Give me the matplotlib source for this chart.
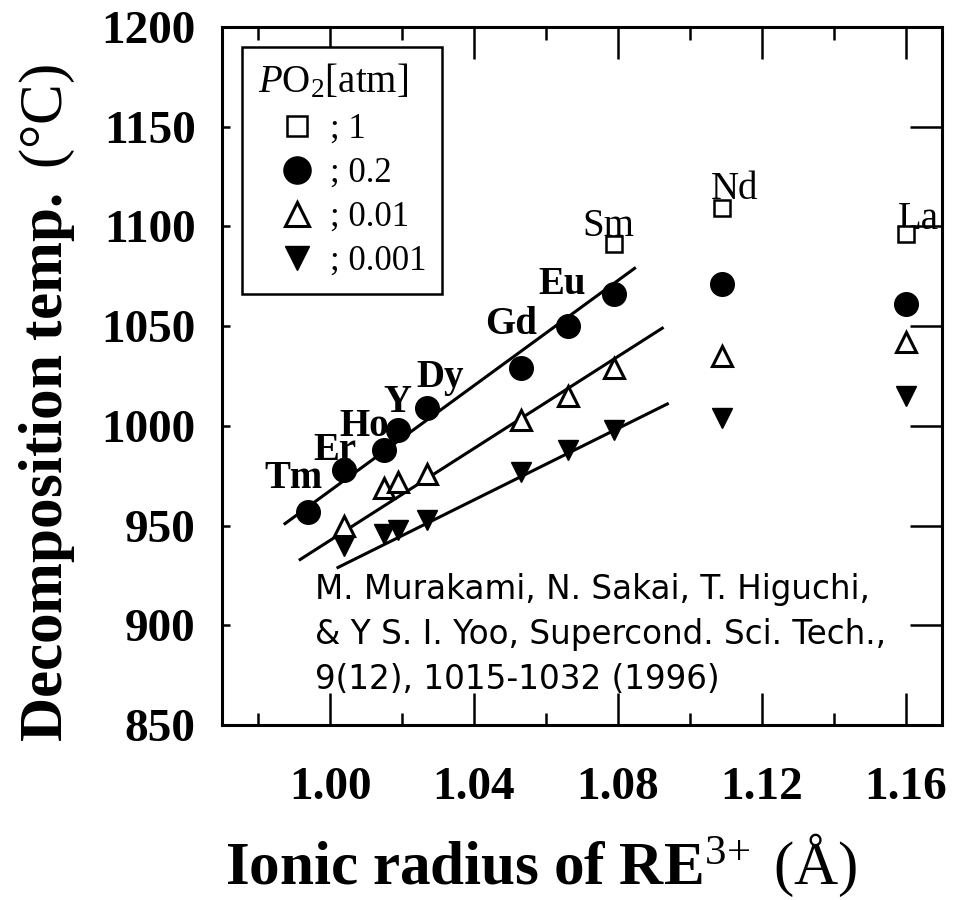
"""Decomposition temperature of REBa2Cu3Oy vs RE3+ ionic radius for several PO2."""

import matplotlib.pyplot as plt
import numpy as np

plt.rcParams["font.family"] = ["Liberation Serif", "DejaVu Serif"]
plt.rcParams["mathtext.fontset"] = "custom"
plt.rcParams["mathtext.rm"] = "Liberation Serif"
plt.rcParams["mathtext.it"] = "Liberation Serif:italic"
plt.rcParams["mathtext.bf"] = "Liberation Serif:bold"

# ---- data ----
elements = ["Tm", "Er", "Ho", "Y", "Dy", "Gd", "Eu", "Sm", "Nd", "La"]
radius = [0.994, 1.004, 1.015, 1.019, 1.027, 1.053, 1.066, 1.079, 1.109, 1.160]

nan = np.nan
temp_1 = [nan, nan, nan, nan, nan, nan, nan, 1091, 1109, 1096]
temp_02 = [957, 978, 988, 998, 1009, 1029, 1050, 1066, 1071, 1061]
temp_001 = [nan, 950, 969, 972, 976, 1003, 1015, 1029, 1035, 1042]
temp_0001 = [nan, 940, 946, 948, 953, 977, 988, 998, 1004, 1015]

# straight-line fits drawn in the original (end points)
fit_x_02 = [0.9875, 1.0846]
fit_y_02 = [951, 1079]
fit_x_001 = [0.9917, 1.0923]
fit_y_001 = [933, 1049]
fit_x_0001 = [1.0022, 1.0937]
fit_y_0001 = [929, 1011]

pressure_labels = ["; 1", "; 0.2", "; 0.01", "; 0.001"]

x_ticks = [1.00, 1.04, 1.08, 1.12, 1.16]
x_minor = [0.98, 1.02, 1.06, 1.10, 1.14]
y_ticks = [850, 900, 950, 1000, 1050, 1100, 1150, 1200]

citation = ("M. Murakami, N. Sakai, T. Higuchi,\n"
            "& Y S. I. Yoo, Supercond. Sci. Tech.,\n"
            "9(12), 1015-1032 (1996)")

# ---- layout / style ----
label_offsets = [(-11, 24), (-7, 14), (-14, 17), (-1, 20), (9, 22),
                 (-7, 31), (-4, 30), (-4, 13), (9, 14), (9, 11)]
label_bold = [True, True, True, True, True, True, True, False, False, False]

fig = plt.figure(figsize=(9.55, 9), dpi=100)
ax = fig.add_axes([0.2325, 0.1944, 0.7539, 0.7756])

line_kw = dict(color="black", linewidth=2.2, zorder=2)
ax.plot(fit_x_02, fit_y_02, **line_kw)
ax.plot(fit_x_001, fit_y_001, **line_kw)
ax.plot(fit_x_0001, fit_y_0001, **line_kw)

ax.plot(radius, temp_1, ls="none", marker="s", ms=12, mfc="white", mec="black",
        mew=1.8, zorder=3, label=pressure_labels[0])
ax.plot(radius, temp_02, ls="none", marker="o", ms=17, mfc="black", mec="black",
        zorder=3, label=pressure_labels[1])
ax.plot(radius, temp_001, ls="none", marker="^", ms=15, mfc="white", mec="black",
        mew=2.2, zorder=3, label=pressure_labels[2])
ax.plot(radius, temp_0001, ls="none", marker="v", ms=15, mfc="black", mec="black",
        zorder=3, label=pressure_labels[3])

# element names next to the uppermost marker
for i, el in enumerate(elements):
    y_anchor = temp_1[i] if not np.isnan(temp_1[i]) else temp_02[i]
    ax.annotate(el, (radius[i], y_anchor), xytext=label_offsets[i],
                textcoords="offset points", ha="center", va="center",
                fontsize=28, fontweight="bold" if label_bold[i] else "normal",
                zorder=2)

ax.set_xlim(0.97, 1.17)
ax.set_ylim(850, 1200)
ax.set_xticks(x_ticks)
ax.set_xticks(x_minor, minor=True)
ax.set_xticklabels([f"{v:.2f}" for v in x_ticks])
ax.set_yticks(y_ticks)
ax.set_yticklabels([str(v) for v in y_ticks])

ax.tick_params(which="both", direction="in", top=True, right=True, width=1.8)
ax.tick_params(axis="x", which="major", length=23, pad=30, labelsize=34)
ax.tick_params(axis="x", which="minor", length=9)
ax.tick_params(axis="y", which="major", length=6, pad=19, labelsize=34)
for t in ax.yaxis.get_major_ticks():
    t.tick2line.set_markersize(23)
for lbl in ax.get_xticklabels() + ax.get_yticklabels():
    lbl.set_fontweight("bold")
for sp in ax.spines.values():
    sp.set_linewidth(2.2)

leg = ax.legend(loc="upper left", bbox_to_anchor=(0.028, 0.971), borderaxespad=0,
                title=r"$P\mathrm{O}_2\mathrm{[atm]}$", title_fontsize=28,
                fontsize=25, alignment="left", frameon=True, fancybox=False,
                edgecolor="black", framealpha=1, borderpad=0.45,
                handlelength=2.25, handletextpad=-0.17, labelspacing=0.32,
                markerscale=1.15)
leg.get_frame().set_linewidth(1.8)

ax.text(0.129, 0.218, citation, transform=ax.transAxes, family="DejaVu Sans",
        fontsize=23.5, va="top", ha="left", linespacing=1.47, zorder=4)

fig.text(0.050, 0.552, r"$\mathbf{Decomposition\ temp.}\ \mathrm{(°C)}$",
         rotation=90, ha="center", va="center", fontsize=44)
fig.text(0.5665, 0.0178, r"$\mathbf{Ionic\ radius\ of\ RE}^{3\!+}\ \mathrm{(Å)}$",
         ha="center", va="baseline", fontsize=44)

fig.savefig("out.png", dpi=100, facecolor="white")
